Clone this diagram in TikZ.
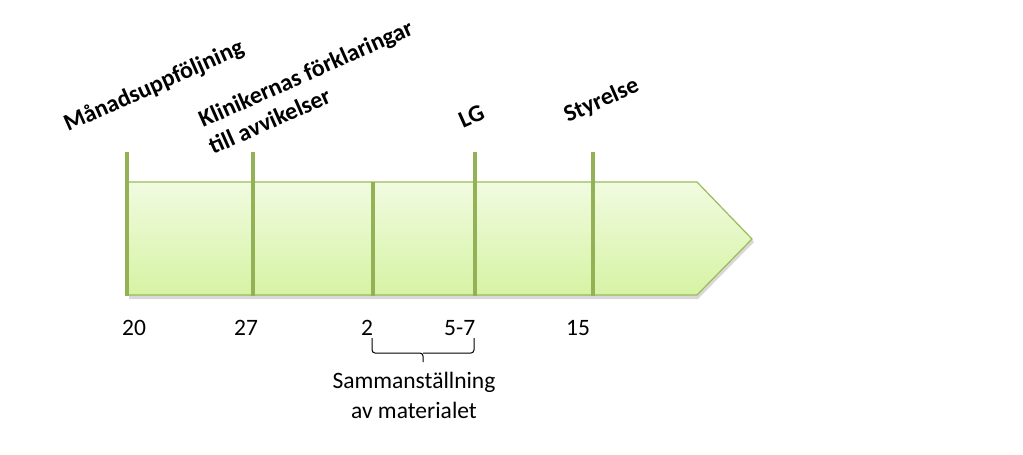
\documentclass[tikz,border=0pt]{standalone}
\usepackage{fontspec}
\setmainfont{Carlito}
\usetikzlibrary{shadows}
\definecolor{olive}{HTML}{9BBB59}
\definecolor{gtop}{HTML}{F1FBE0}
\definecolor{gbot}{HTML}{D6F3A4}
\tikzset{
  lbl/.style={font=\fontsize{24}{28}\selectfont\bfseries, anchor=base west, inner sep=0pt, rotate=24},
  num/.style={font=\fontsize{23.5}{28}\selectfont, anchor=base west, inner sep=0pt},
  note/.style={font=\fontsize{23.5}{30}\selectfont, anchor=base, inner sep=0pt},
  tick/.style={draw=olive!95!black, line width=4pt},
}
\begin{document}
\begin{tikzpicture}[x=1pt,y=-1pt]
\useasboundingbox[fill=white] (0,0) rectangle (1023,455);
% arrow body
\fill[gray!60, opacity=0.5] (129,186) -- (698,186) -- (754,242) -- (698,299) -- (129,299) -- cycle;
\shade[top color=gtop, bottom color=gbot, draw=olive, line width=1.2pt]
  (127,182) -- (697,182) -- (752,239) -- (697,295) -- (127,295) -- cycle;
% ticks
\draw[tick] (127,152) -- (127,296);
\draw[tick] (253,152) -- (253,296);
\draw[tick] (373,182) -- (373,296);
\draw[tick] (475,152) -- (475,296);
\draw[tick] (593,152) -- (593,296);
% labels
\node[lbl] (m) at (68,132) {Månadsuppföljning};
\node[lbl] (k1) at (203,128) {Klinikernas förklaringar};
\node[lbl] (k2) at (213,155) {till avvikelser};
\node[lbl] (lg) at (463,129) {LG};
\node[lbl] (st) at (568,123) {Styrelse};
% numbers
\node[num] (n20) at (122,335) {20};
\node[num] (n27) at (234,335) {27};
\node[num] (n2) at (361,335) {2};
\node[num] (n57) at (444,335) {5-7};
\node[num] (n15) at (566,335) {15};
% brace
\coordinate (bl) at (372,338);
\coordinate (br) at (474,338);
\draw[line width=1pt, rounded corners=3pt] (bl) -- (372,353) -- (423,353) -- (423,362);
\draw[line width=1pt, rounded corners=3pt] (br) -- (474,353) -- (423,353);
\node[note] (s1) at (414,388) {Sammanställning};
\node[note] (s2) at (414,418) {av materialet};
\end{tikzpicture}
\end{document}
